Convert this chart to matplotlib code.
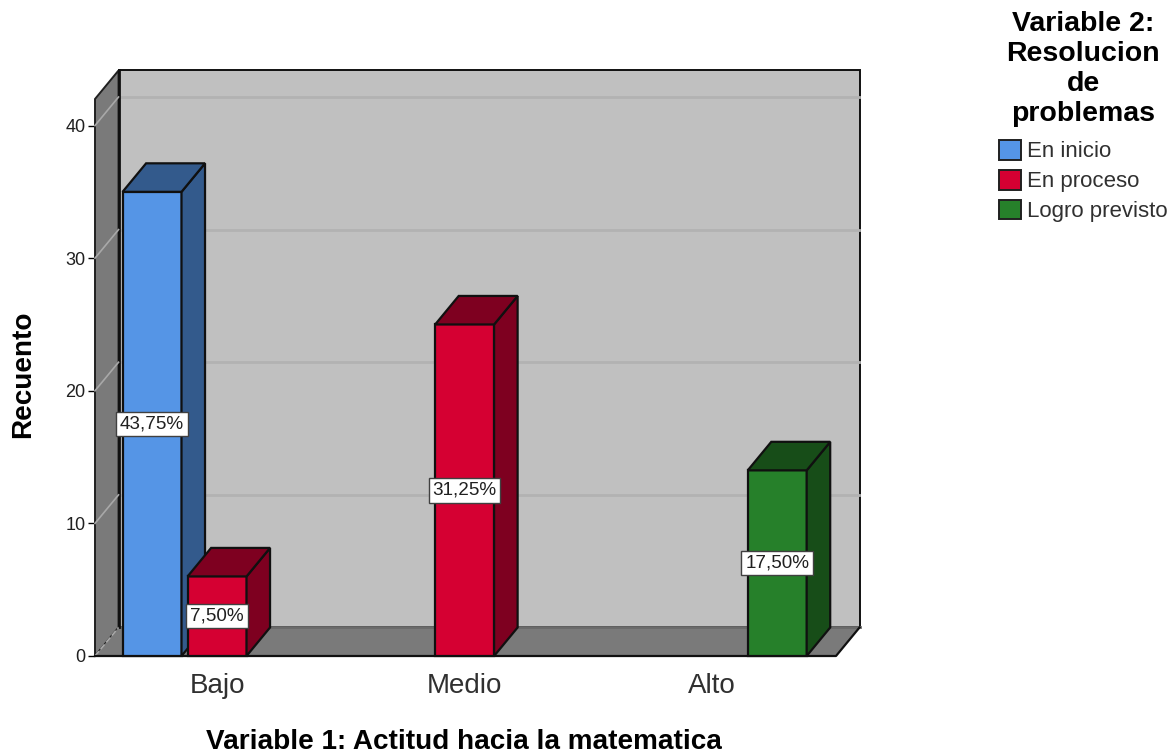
import matplotlib

matplotlib.use("Agg")
import matplotlib.pyplot as plt
from matplotlib.patches import Patch, Polygon

plt.rcParams["font.family"] = ["Liberation Sans", "DejaVu Sans"]

# Data
categories = ["Bajo", "Medio", "Alto"]
series_names = ["En inicio", "En proceso", "Logro previsto"]
en_inicio = [35, 0, 0]
en_proceso = [6, 25, 0]
logro_previsto = [0, 0, 14]
TOTAL = 80
y_ticks = [0, 10, 20, 30, 40]

# Styling
front_colors = ["#5595E6", "#D50032", "#26802A"]
side_colors = ["#335A8C", "#7E0020", "#174D18"]
WALL = "#C0C0C0"
SIDE_WALL = "#7A7A7A"
GRID = "#B2B2B2"
BAR_WIDTH = 0.238
BAR_STEP = 0.2626
# how far the box extends backwards, in data units
DEPTH_X = 0.095
DEPTH_Y = 2.15
X_MIN, X_MAX = -0.493, 2.5
Y_MIN, Y_MAX = 0, 42


def draw_bar(ax, x, value, color_idx):
    left = x - BAR_WIDTH / 2
    right = x + BAR_WIDTH / 2
    ax.bar(
        x,
        value,
        width=BAR_WIDTH,
        color=front_colors[color_idx],
        edgecolor="#101010",
        linewidth=1.6,
        zorder=5,
        clip_on=False,
    )
    side = [
        (right, 0),
        (right + DEPTH_X, DEPTH_Y),
        (right + DEPTH_X, value + DEPTH_Y),
        (right, value),
    ]
    top = [
        (left, value),
        (left + DEPTH_X, value + DEPTH_Y),
        (right + DEPTH_X, value + DEPTH_Y),
        (right, value),
    ]
    for points in (side, top):
        ax.add_patch(
            Polygon(
                points,
                facecolor=side_colors[color_idx],
                edgecolor="#101010",
                linewidth=1.6,
                zorder=5,
                clip_on=False,
            )
        )
    pct = f"{value / TOTAL * 100:.2f}".replace(".", ",") + "%"
    ax.text(
        x,
        value / 2,
        pct,
        ha="center",
        va="center",
        fontsize=13.6,
        color="#202020",
        zorder=10,
        bbox=dict(
            boxstyle="square,pad=0.2",
            facecolor="white",
            edgecolor="#404040",
            linewidth=1,
        ),
    )


fig = plt.figure(figsize=(11.76, 7.53), dpi=100)
ax = fig.add_axes([95 / 1176, (753 - 656) / 753, 741 / 1176, 557 / 753])
ax.set_xlim(X_MIN, X_MAX)
ax.set_ylim(Y_MIN, Y_MAX)

for spine in ax.spines.values():
    spine.set_visible(False)

# Back wall, left wall and floor of the box
back_left = X_MIN + DEPTH_X
back_right = X_MAX + DEPTH_X
back_top = Y_MAX + DEPTH_Y
ax.add_patch(
    Polygon(
        [
            (back_left, DEPTH_Y),
            (back_left, back_top),
            (back_right, back_top),
            (back_right, DEPTH_Y),
        ],
        facecolor=WALL,
        edgecolor="#101010",
        linewidth=1.4,
        zorder=1,
        clip_on=False,
    )
)
ax.add_patch(
    Polygon(
        [
            (X_MIN, 0),
            (X_MIN, Y_MAX),
            (back_left, back_top),
            (back_left, DEPTH_Y),
        ],
        facecolor=SIDE_WALL,
        edgecolor="#202020",
        linewidth=1.4,
        zorder=2,
        clip_on=False,
    )
)
ax.add_patch(
    Polygon(
        [
            (X_MIN, 0),
            (back_left, DEPTH_Y),
            (back_right, DEPTH_Y),
            (X_MAX, 0),
        ],
        facecolor=SIDE_WALL,
        edgecolor="none",
        zorder=2,
        clip_on=False,
    )
)
ax.plot(
    [back_left, back_right],
    [DEPTH_Y, DEPTH_Y],
    color="#6A6A6A",
    linewidth=2,
    zorder=3,
    clip_on=False,
)
ax.plot(
    [X_MIN, X_MAX, back_right],
    [0, 0, DEPTH_Y],
    color="#101010",
    linewidth=1.6,
    zorder=4,
    clip_on=False,
)
ax.plot(
    [back_left, back_left],
    [DEPTH_Y, back_top],
    color="#101010",
    linewidth=2,
    zorder=3,
    clip_on=False,
)

# Gridlines run along the back wall and down the left wall
for tick in y_ticks:
    if tick > 0:
        ax.plot(
            [back_left, back_right - 0.004],
            [tick + DEPTH_Y, tick + DEPTH_Y],
            color=GRID,
            linewidth=2,
            zorder=2,
            clip_on=False,
        )
    ax.plot(
        [X_MIN, back_left],
        [tick, tick + DEPTH_Y],
        color="#A8A8A8",
        linewidth=1.2,
        linestyle="--" if tick == 0 else "-",
        zorder=3,
        clip_on=False,
    )

# Bars, left to right so the nearer faces cover the previous one
all_series = [en_inicio, en_proceso, logro_previsto]
for cat_idx in range(len(categories)):
    for s_idx, values in enumerate(all_series):
        if values[cat_idx] > 0:
            draw_bar(ax, cat_idx + (s_idx - 1) * BAR_STEP, values[cat_idx], s_idx)

# Axes text
ax.set_xticks(range(len(categories)))
ax.set_xticklabels(categories, fontsize=20, color="#303030")
ax.tick_params(axis="x", length=0, pad=12)
ax.set_yticks(y_ticks)
ax.tick_params(axis="y", length=5, width=1, labelsize=13, pad=2, labelcolor="#202020")

ax.set_xlabel("Variable 1: Actitud hacia la matematica", fontsize=20.1, fontweight="bold")
ax.xaxis.set_label_coords(0.4975, -0.131)
ax.set_ylabel("Recuento", fontsize=20.1, fontweight="bold")
ax.yaxis.set_label_coords(-0.08, 0.505)

# Legend
handles = [
    Patch(facecolor=c, edgecolor="#202020", linewidth=1.4) for c in front_colors
]
legend = fig.legend(
    handles,
    series_names,
    title="Variable 2:\nResolucion\nde\nproblemas",
    loc="upper left",
    bbox_to_anchor=(997 / 1176, 1 - 9 / 753),
    frameon=False,
    fontsize=16,
    title_fontproperties={"size": 20.5, "weight": "bold"},
    alignment="center",
    handlelength=1.0,
    handleheight=1.0,
    handletextpad=0.25,
    labelspacing=0.33,
    borderpad=0.1,
    borderaxespad=0,
    labelcolor="#303030",
)
legend.get_title().set_multialignment("center")
legend._legend_box.sep = 9

fig.savefig("out.png", dpi=100)
